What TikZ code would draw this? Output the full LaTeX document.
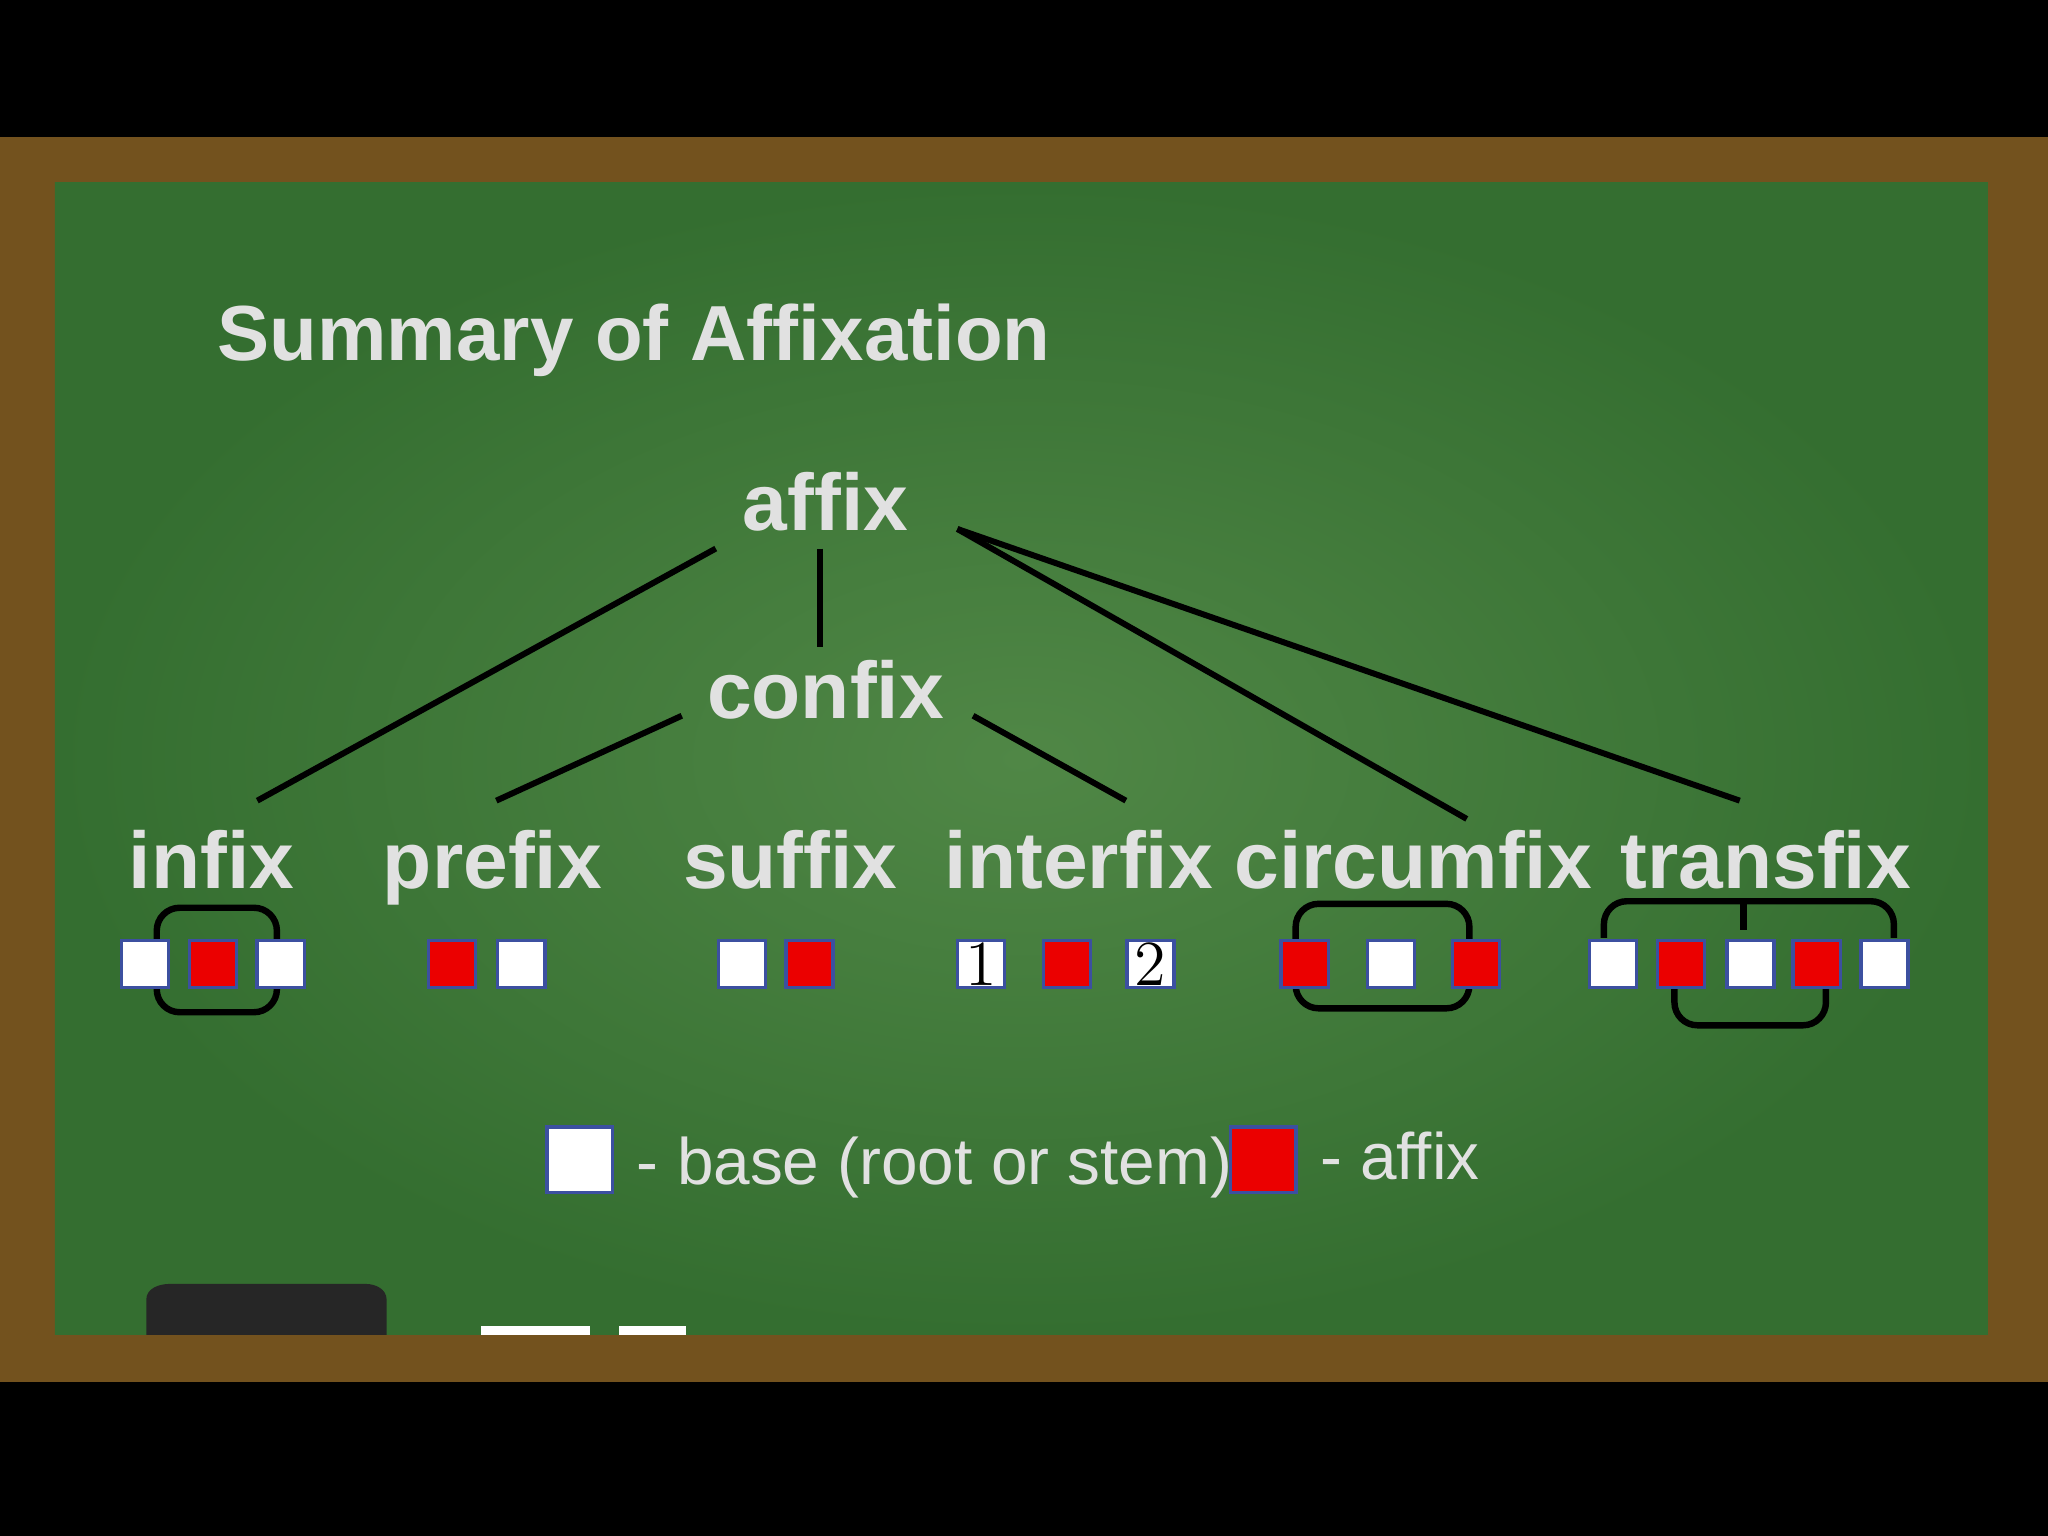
\documentclass[tikz,border=0pt]{standalone}
\usepackage{fontspec}
\setmainfont{Liberation Sans}
\definecolor{board}{RGB}{52,110,48}
\definecolor{boardlight}{RGB}{80,135,70}
\definecolor{wood}{RGB}{115,82,30}
\definecolor{chalk}{RGB}{225,225,225}
\definecolor{sqred}{RGB}{235,0,0}
\definecolor{sqblue}{RGB}{60,80,160}
\begin{document}
\begin{tikzpicture}[x=0.01cm,y=-0.01cm,
  lab/.style={font=\bfseries\fontsize{17.5}{20}\selectfont, text=chalk, inner sep=0pt, anchor=base},
  conn/.style={line width=1.3pt, black},
  wsq/.style={draw=sqblue, line width=0.8pt, fill=white, minimum size=0.36cm, inner sep=0pt},
  rsq/.style={draw=sqblue, line width=0.8pt, fill=sqred, minimum size=0.36cm, inner sep=0pt},
  brk/.style={line width=1.4pt, black, rounded corners=5pt}]
\useasboundingbox (0,0) rectangle (1568,1176);
\fill[black] (0,0) rectangle (1568,1176);
\fill[wood] (0,105) rectangle (1568,1058);
\shade[inner color=boardlight, outer color=board] (42,140) rectangle (1522,1022);
% eraser and chalk
\fill[black!85] (112,1022) -- (112,995) to[out=90,in=180] (130,983) -- (280,983) to[out=0,in=90] (296,995) -- (296,1022) -- cycle;
\fill[white] (368,1015) rectangle (452,1022);
\fill[white] (474,1015) rectangle (525,1022);
% title
\node[font=\bfseries\fontsize{17}{20}\selectfont, text=chalk, anchor=base west, inner sep=0pt] (title) at (166,276) {Summary of Affixation};
% tree
\node[lab] (affix) at (632,406) {affix};
\node[lab] (confix) at (632,550) {confix};
\node[lab] (infix) at (162,680) {infix};
\node[lab] (prefix) at (377,680) {prefix};
\node[lab] (suffix) at (605,680) {suffix};
\node[lab] (interfix) at (826,680) {interfix};
\node[lab] (circumfix) at (1082,680) {circumfix};
\node[lab] (transfix) at (1352,680) {transfix};
\coordinate (a1) at (548,420); \coordinate (a2) at (628,420); \coordinate (a3) at (733,405);
\coordinate (c0) at (628,495); \coordinate (c1) at (522,548); \coordinate (c2) at (745,548);
\coordinate (i1) at (197,613); \coordinate (p1) at (380,613); \coordinate (n1) at (862,613);
\coordinate (cf1) at (1123,627); \coordinate (t1) at (1332,613);
\draw[conn] (a1) -- (i1);
\draw[conn] (a2) -- (c0);
\draw[conn] (c1) -- (p1);
\draw[conn] (c2) -- (n1);
\draw[conn] (a3) -- (cf1);
\draw[conn] (a3) -- (t1);
% brackets
\draw[brk] (120,695) rectangle (212,775);
\draw[brk] (992,692) rectangle (1125,772);
\draw[brk] (1228,718) -- (1228,690) -- (1450,690) -- (1450,718);
\draw[line width=1.4pt] (1335,690) -- (1335,712);
\draw[brk] (1282,740) -- (1282,785) -- (1398,785) -- (1398,740);
% squares
\node[wsq] (s1) at (111,738) {}; \node[rsq] (s2) at (163,738) {}; \node[wsq] (s3) at (215,738) {};
\node[rsq] (s4) at (346,738) {}; \node[wsq] (s5) at (399,738) {};
\node[wsq] (s6) at (568,738) {}; \node[rsq] (s7) at (620,738) {};
\node[wsq, font=\fontfamily{lmr}\fontsize{14}{14}\selectfont] (s8) at (751,738) {1};
\node[rsq] (s9) at (817,738) {};
\node[wsq, font=\fontfamily{lmr}\fontsize{14}{14}\selectfont] (s10) at (881,738) {2};
\node[rsq] (s11) at (999,738) {}; \node[wsq] (s12) at (1065,738) {}; \node[rsq] (s13) at (1130,738) {};
\node[wsq] (s14) at (1235,738) {}; \node[rsq] (s15) at (1287,738) {}; \node[wsq] (s16) at (1340,738) {};
\node[rsq] (s17) at (1391,738) {}; \node[wsq] (s18) at (1443,738) {};
% legend
\node[wsq, minimum size=0.5cm] (lw) at (444,888) {};
\node[font=\fontsize{14.3}{16}\selectfont, text=chalk, anchor=base west, inner sep=0pt] (lt1) at (487,907) {- base (root or stem)};
\node[rsq, minimum size=0.5cm] (lr) at (967,888) {};
\node[font=\fontsize{14.3}{16}\selectfont, text=chalk, anchor=base west, inner sep=0pt] (lt2) at (1010,903) {- affix};
\end{tikzpicture}
\end{document}
